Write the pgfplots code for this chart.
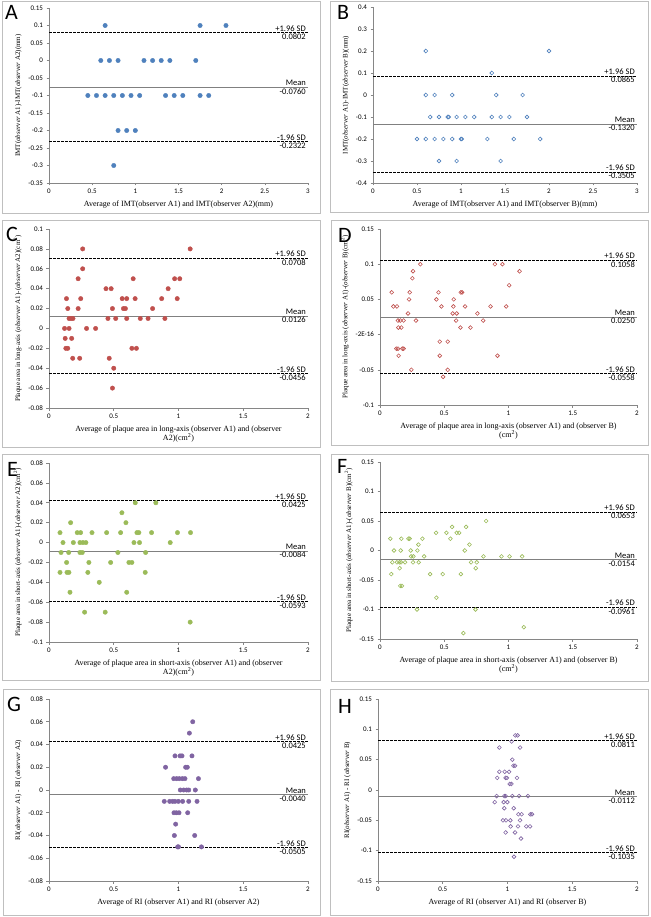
\documentclass[border=0pt]{standalone}
\usepackage{pgfplots}
\pgfplotsset{compat=1.18}
\usepackage{fontspec}
\setmainfont{Carlito}
\newfontfamily\serif{Liberation Serif}
\definecolor{cA}{HTML}{4F81BD}
\definecolor{cC}{HTML}{C0504D}
\definecolor{cE}{HTML}{9BBB59}
\definecolor{cG}{HTML}{8064A2}
\definecolor{frame}{HTML}{BFBFBF}
\definecolor{axc}{HTML}{868686}
\pgfplotsset{
  ba/.style={
    scale only axis, anchor=south west,
    axis x line=bottom, axis y line=left,
    axis line style={-, color=axc, line width=0.6pt},
    tick style={color=axc, line width=0.6pt},
    tick align=outside, major tick length=2.5pt,
    scaled ticks=false,
    xticklabel style={font=\fontsize{7}{8}\selectfont, /pgf/number format/.cd, fixed, precision=2, assume math mode=true},
    yticklabel style={font=\fontsize{7}{8}\selectfont, /pgf/number format/.cd, fixed, precision=2, assume math mode=true},
    xlabel style={font=\serif\fontsize{8}{8.5}\selectfont, align=center},
    ylabel style={font=\serif\fontsize{7}{8}\selectfont},
    clip=false,
  },
  fmark/.style={only marks, mark=*, mark size=2.2pt, mark options={draw=#1, fill=#1}},
  omark/.style={only marks, mark=o, mark size=1.9pt, mark options={draw=#1, line width=0.6pt}},
}
\tikzset{annot/.style={font=\fontsize{8.5}{9}\selectfont, inner sep=1pt, xshift=-1pt}}
\newcommand{\baref}[4]{%
  \addplot[black, dash pattern=on 2.5pt off 1.5pt, line width=0.9pt] coordinates {(0,#2) (#1,#2)};
  \addplot[gray, line width=0.8pt] coordinates {(0,#3) (#1,#3)};
  \addplot[black, dash pattern=on 2.5pt off 1.5pt, line width=0.9pt] coordinates {(0,#4) (#1,#4)};
  \node[annot, anchor=south east] at (axis cs:#1,#2) {+1.96 SD};
  \node[annot, anchor=north east] at (axis cs:#1,#2) {#2};
  \node[annot, anchor=south east] at (axis cs:#1,#3) {Mean};
  \node[annot, anchor=north east] at (axis cs:#1,#3) {#3};
  \node[annot, anchor=south east] at (axis cs:#1,#4) {-1.96 SD};
  \node[annot, anchor=north east] at (axis cs:#1,#4) {#4};
}
\begin{document}
\begin{tikzpicture}
\useasboundingbox (0,0) rectangle (650pt,-917pt);
\fill[white] (0,0) rectangle (650pt,-917pt);
% frames
\draw[frame, line width=0.8pt] (2pt,-1pt) rectangle (320pt,-213pt);
\draw[frame, line width=0.8pt] (330pt,-1pt) rectangle (648pt,-212pt);
\draw[frame, line width=0.8pt] (2pt,-220pt) rectangle (320pt,-447pt);
\draw[frame, line width=0.8pt] (331pt,-220pt) rectangle (648pt,-445pt);
\draw[frame, line width=0.8pt] (2pt,-454pt) rectangle (320pt,-680pt);
\draw[frame, line width=0.8pt] (331pt,-454pt) rectangle (648pt,-681pt);
\draw[frame, line width=0.8pt] (3pt,-689pt) rectangle (320pt,-915pt);
\draw[frame, line width=0.8pt] (330pt,-689pt) rectangle (648pt,-915pt);

% ---------- A ----------
\begin{axis}[ba, at={(49pt,-183pt)}, width=259pt, height=175pt,
  xmin=0, xmax=3, ymin=-0.35, ymax=0.15,
  xtick={0,0.5,1,1.5,2,2.5,3},
  ytick={-0.35,-0.3,-0.25,-0.2,-0.15,-0.1,-0.05,0,0.05,0.1,0.15},
  xlabel={Average of IMT(observer A1) and IMT(observer A2)(mm)},
  ylabel={IMT(\textit{observer} A1)-IMT(\textit{observer} A2)(mm)}]
\baref{3}{0.0802}{-0.0760}{-0.2322}
\addplot[fmark=cA] coordinates {
(0.65,0.1)(1.75,0.1)(2.05,0.1)
(0.6,0)(0.7,0)(0.8,0)(1.1,0)(1.2,0)(1.3,0)(1.4,0)(1.7,0)
(0.45,-0.1)(0.55,-0.1)(0.65,-0.1)(0.75,-0.1)(0.85,-0.1)(0.95,-0.1)(1.05,-0.1)(1.35,-0.1)(1.45,-0.1)(1.55,-0.1)(1.75,-0.1)(1.85,-0.1)
(0.8,-0.2)(0.9,-0.2)(1.0,-0.2)
(0.75,-0.3)};
\end{axis}

% ---------- B ----------
\begin{axis}[ba, at={(373pt,-183pt)}, width=264pt, height=176pt,
  xmin=0, xmax=3, ymin=-0.4, ymax=0.4,
  xtick={0,0.5,1,1.5,2,2.5,3},
  ytick={-0.4,-0.3,-0.2,-0.1,0,0.1,0.2,0.3,0.4},
  xlabel={Average of IMT(observer A1) and IMT(observer B)(mm)},
  ylabel={IMT(\textit{observer} A1)-IMT(\textit{observer} B)(mm)}]
\baref{3}{0.0865}{-0.1320}{-0.3505}
\addplot[omark=cA] coordinates {
(0.6,0.2)(2.0,0.2)(1.35,0.1)
(0.6,0)(0.7,0)(0.9,0)(1.4,0)(1.7,0)
(0.65,-0.1)(0.75,-0.1)(0.85,-0.1)(0.86,-0.1)(0.95,-0.1)(1.05,-0.1)(1.15,-0.1)(1.35,-0.1)(1.45,-0.1)(1.55,-0.1)(1.75,-0.1)
(0.5,-0.2)(0.6,-0.2)(0.7,-0.2)(0.8,-0.2)(0.9,-0.2)(1.0,-0.2)(1.01,-0.2)(1.3,-0.2)(1.6,-0.2)(1.9,-0.2)
(0.75,-0.3)(0.95,-0.3)(1.45,-0.3)};
\end{axis}

% ---------- C ----------
\begin{axis}[ba, at={(49pt,-408pt)}, width=259pt, height=179pt,
  xmin=0, xmax=2, ymin=-0.08, ymax=0.1,
  xtick={0,0.5,1,1.5,2},
  ytick={-0.08,-0.06,-0.04,-0.02,0,0.02,0.04,0.06,0.08,0.1},
  xlabel={Average of plaque area in long-axis (observer A1) and (observer\\A2)(cm\textsuperscript{2})},
  ylabel={Plaque area in long-axis (\textit{observer} A1)-(\textit{observer} A2)(cm\textsuperscript{2})}]
\baref{2}{0.0708}{0.0126}{-0.0456}
\addplot[fmark=cC] coordinates {
(0.26,0.08)(1.09,0.08)(0.26,0.06)
(0.225,0.05)(0.65,0.05)(0.97,0.05)(1.01,0.05)
(0.44,0.04)(0.48,0.04)(0.92,0.04)
(0.135,0.03)(0.245,0.03)(0.565,0.03)(0.6,0.03)(0.665,0.03)(0.87,0.03)(0.99,0.03)
(0.145,0.02)(0.225,0.02)(0.49,0.02)(0.575,0.02)(0.59,0.02)(0.8,0.02)
(0.155,0.01)(0.17,0.01)(0.185,0.01)(0.455,0.01)(0.515,0.01)(0.6,0.01)(0.705,0.01)(0.765,0.01)(0.895,0.01)
(0.12,0)(0.155,0)(0.29,0)(0.36,0)
(0.125,-0.01)(0.175,-0.01)
(0.13,-0.02)(0.145,-0.02)(0.64,-0.02)(0.675,-0.02)
(0.183,-0.03)(0.237,-0.03)(0.465,-0.03)
(0.5,-0.04)(0.49,-0.06)};
\end{axis}

% ---------- D ----------
\begin{axis}[ba, at={(380pt,-405pt)}, width=257pt, height=176pt,
  xmin=0, xmax=2, ymin=-0.1, ymax=0.15,
  xtick={0,0.5,1,1.5,2},
  ytick={-0.1,-0.05,0,0.05,0.1,0.15},
  yticklabels={-0.1,-0.05,-2E-16,0.05,0.1,0.15},
  xlabel={Average of plaque area in long-axis (observer A1) and (observer B)\\(cm\textsuperscript{2})},
  ylabel={Plaque area in long-axis (\textit{observer} A1)-(\textit{observer} B)(cm\textsuperscript{2})}]
\baref{2}{0.1058}{0.0250}{-0.0558}
\addplot[omark=cC] coordinates {
(0.314,0.1)(0.894,0.1)(0.953,0.1)
(0.257,0.09)(1.086,0.09)
(0.252,0.08)
(1.005,0.07)
(0.091,0.06)(0.231,0.06)(0.455,0.06)(0.629,0.06)(0.639,0.06)
(0.226,0.05)(0.439,0.05)(0.574,0.05)
(0.104,0.04)(0.132,0.04)(0.478,0.04)(0.571,0.04)(0.662,0.04)(0.86,0.04)(0.982,0.04)
(0.218,0.03)(0.566,0.03)(0.597,0.03)(0.758,0.03)
(0.14,0.02)(0.158,0.02)(0.184,0.02)(0.28,0.02)(0.592,0.02)(0.803,0.02)
(0.143,0.01)(0.166,0.01)(0.626,0.01)(0.704,0.01)
(0.465,-0.01)(0.527,-0.01)
(0.127,-0.02)(0.14,-0.02)(0.174,-0.02)(0.184,-0.02)
(0.145,-0.03)(0.465,-0.03)(0.914,-0.03)
(0.244,-0.05)(0.527,-0.05)
(0.491,-0.06)};
\end{axis}

% ---------- E ----------
\begin{axis}[ba, at={(49pt,-642pt)}, width=259pt, height=179pt,
  xmin=0, xmax=2, ymin=-0.1, ymax=0.08,
  xtick={0,0.5,1,1.5,2},
  ytick={-0.1,-0.08,-0.06,-0.04,-0.02,0,0.02,0.04,0.06,0.08},
  xlabel={Average of plaque area in short-axis (observer A1) and (observer\\A2)(cm\textsuperscript{2})},
  ylabel={Plaque area in short-axis (\textit{observer} A1)-(\textit{observer} A2)(cm\textsuperscript{2})}]
\baref{2}{0.0425}{-0.0084}{-0.0593}
\addplot[fmark=cE] coordinates {
(0.666,0.04)(0.825,0.04)
(0.563,0.03)
(0.167,0.02)(0.594,0.02)
(0.085,0.01)(0.218,0.01)(0.244,0.01)(0.332,0.01)(0.445,0.01)(0.553,0.01)(0.679,0.01)(0.694,0.01)(0.792,0.01)(0.992,0.01)(1.093,0.01)
(0.108,0)(0.188,0)(0.239,0)(0.262,0)(0.285,0)(0.656,0)(0.699,0)(0.936,0)
(0.093,-0.01)(0.152,-0.01)(0.239,-0.01)(0.257,-0.01)(0.532,-0.01)(0.746,-0.01)
(0.136,-0.02)(0.308,-0.02)(0.476,-0.02)(0.617,-0.02)(0.64,-0.02)
(0.085,-0.03)(0.139,-0.03)(0.154,-0.03)(0.3,-0.03)(0.743,-0.03)
(0.388,-0.04)
(0.162,-0.05)(0.6,-0.05)
(0.275,-0.07)(0.434,-0.07)
(1.09,-0.08)};
\end{axis}

% ---------- F ----------
\begin{axis}[ba, at={(380pt,-639pt)}, width=257pt, height=177pt,
  xmin=0, xmax=2, ymin=-0.15, ymax=0.15,
  xtick={0,0.5,1,1.5,2},
  ytick={-0.15,-0.1,-0.05,0,0.05,0.1,0.15},
  xlabel={Average of plaque area in short-axis (observer A1) and (observer B)\\(cm\textsuperscript{2})},
  ylabel={Plaque area in short-axis (\textit{observer} A1)-(\textit{observer} B)(cm\textsuperscript{2})}]
\baref{2}{0.0653}{-0.0154}{-0.0961}
\addplot[omark=cE] coordinates {
(0.826,0.05)
(0.561,0.04)(0.67,0.04)
(0.436,0.03)(0.517,0.03)(0.597,0.03)(0.616,0.03)
(0.08,0.02)(0.166,0.02)(0.221,0.02)(0.231,0.02)(0.33,0.02)(0.548,0.02)
(0.299,0.01)(0.696,0.01)
(0.109,0)(0.161,0)(0.239,0)(0.291,0)(0.66,0)
(0.242,-0.01)(0.26,-0.01)(0.343,-0.01)(0.805,-0.01)(0.945,-0.01)(1.008,-0.01)(1.106,-0.01)
(0.096,-0.02)(0.132,-0.02)(0.151,-0.02)(0.164,-0.02)(0.195,-0.02)(0.257,-0.02)(0.301,-0.02)(0.709,-0.02)(0.753,-0.02)
(0.153,-0.03)(0.745,-0.03)
(0.088,-0.04)(0.39,-0.04)(0.488,-0.04)(0.629,-0.04)
(0.158,-0.06)(0.171,-0.06)
(0.439,-0.08)
(0.288,-0.1)(0.743,-0.1)
(1.119,-0.13)
(0.649,-0.14)};
\end{axis}

% ---------- G ----------
\begin{axis}[ba, at={(49pt,-881pt)}, width=259pt, height=182pt,
  xmin=0, xmax=2, ymin=-0.08, ymax=0.08,
  xtick={0,0.5,1,1.5,2},
  ytick={-0.08,-0.06,-0.04,-0.02,0,0.02,0.04,0.06,0.08},
  xlabel={Average of RI (observer A1) and RI (observer A2)},
  ylabel={RI(\textit{observer} A1) - RI (\textit{observer} A2)}]
\baref{2}{0.0425}{-0.0040}{-0.0505}
\addplot[fmark=cG] coordinates {
(1.11,0.06)(1.084,0.05)
(0.973,0.03)(1.012,0.03)(1.027,0.03)(1.104,0.03)
(0.9,0.02)(1.055,0.02)(1.068,0.02)
(0.963,0.01)(0.986,0.01)(1.006,0.01)(1.03,0.01)(1.05,0.01)(1.154,0.01)
(1.014,0)(1.04,0)(1.063,0)(1.079,0)(1.13,0)
(0.89,-0.01)(0.932,-0.01)(0.955,-0.01)(0.973,-0.01)(0.999,-0.01)(1.032,-0.01)(1.079,-0.01)(1.143,-0.01)
(0.965,-0.02)(0.983,-0.02)(1.004,-0.02)(1.071,-0.02)
(0.978,-0.03)
(0.968,-0.04)(1.125,-0.04)
(0.994,-0.05)(1.0,-0.05)(1.177,-0.05)};
\end{axis}

% ---------- H ----------
\begin{axis}[ba, at={(378pt,-881pt)}, width=259pt, height=182pt,
  xmin=0, xmax=2, ymin=-0.15, ymax=0.15,
  xtick={0,0.5,1,1.5,2},
  ytick={-0.15,-0.1,-0.05,0,0.05,0.1,0.15},
  xlabel={Average of RI (observer A1) and RI (observer B)},
  ylabel={RI(\textit{observer} A1) - RI (\textit{observer} B)}]
\baref{2}{0.0811}{-0.0112}{-0.1035}
\addplot[omark=cG] coordinates {
(1.06,0.09)(1.078,0.09)
(1.032,0.08)
(0.937,0.07)(1.097,0.07)
(1.037,0.05)
(1.045,0.04)(1.058,0.04)
(0.937,0.03)(0.978,0.03)(1.012,0.03)
(0.921,0.02)(0.986,0.02)(0.996,0.02)(1.073,0.02)
(1.017,0.01)(1.03,0.01)
(0.916,-0.01)(0.975,-0.01)(0.986,-0.01)(1.037,-0.01)(1.089,-0.01)(1.158,-0.01)
(0.901,-0.02)(0.97,-0.02)(0.999,-0.02)
(0.975,-0.03)(1.048,-0.03)
(1.084,-0.04)(1.109,-0.04)(1.176,-0.04)(1.189,-0.04)
(0.965,-0.05)(0.988,-0.05)(1.022,-0.05)(1.097,-0.05)
(1.024,-0.06)(1.081,-0.06)(1.145,-0.06)(1.174,-0.06)
(0.986,-0.07)(1.058,-0.07)
(1.104,-0.08)
(1.05,-0.11)};
\end{axis}

% panel letters
\begin{scope}[every node/.style={anchor=base west, inner sep=0pt, font=\fontsize{22}{22}\selectfont}]
\node at (5pt,-20pt) {A};
\node at (337pt,-20pt) {B};
\node at (6pt,-241pt) {C};
\node at (338pt,-243pt) {D};
\node at (7pt,-476pt) {E};
\node at (337pt,-473pt) {F};
\node at (7pt,-711pt) {G};
\node at (338pt,-713pt) {H};
\end{scope}
\end{tikzpicture}
\end{document}
